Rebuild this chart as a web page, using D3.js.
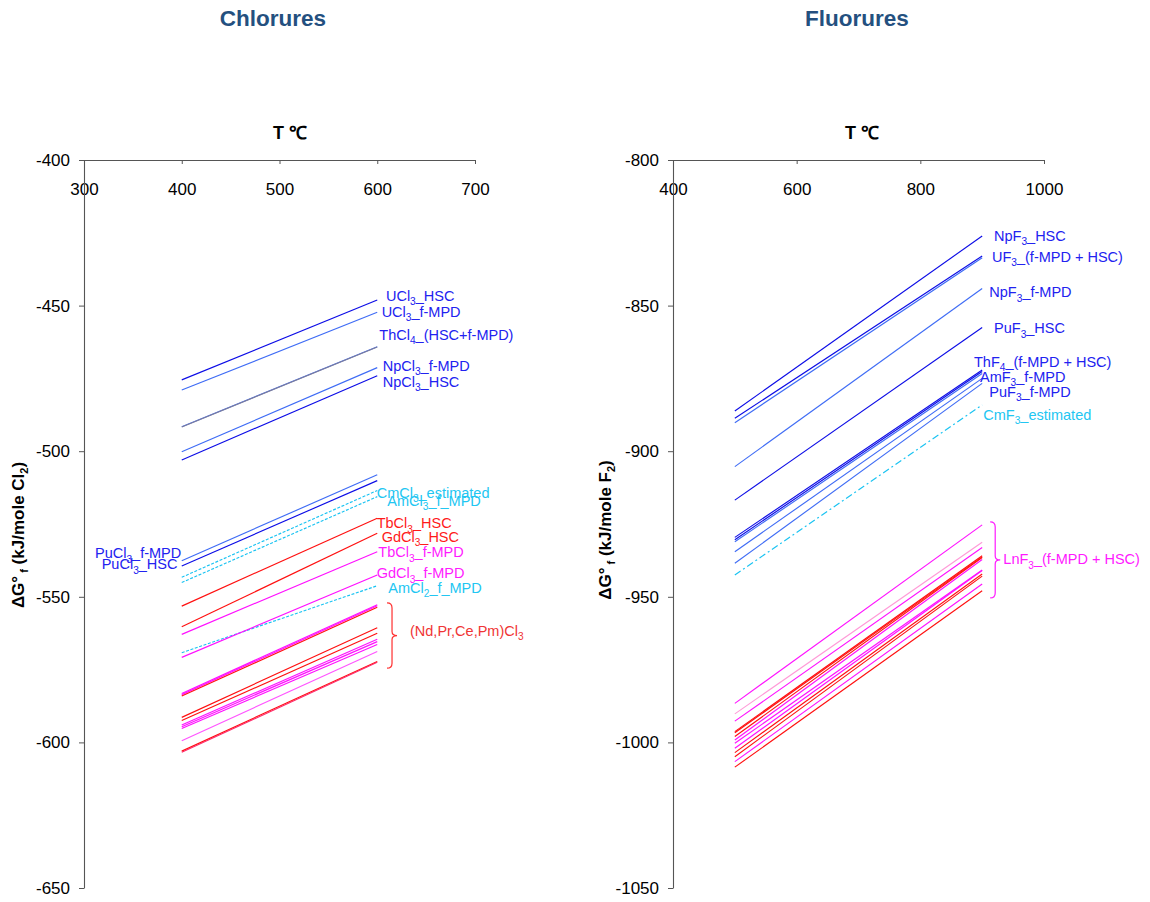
<!DOCTYPE html>
<html><head><meta charset="utf-8">
<script src="https://cdn.jsdelivr.net/npm/d3@7"></script>
<style>
html,body{margin:0;padding:0;background:#fff;}
svg{display:block;}
text{font-family:"Liberation Sans",Arial,sans-serif;}
</style></head>
<body>
<svg id="chart" width="1150" height="902"></svg>
<script>
// ---------------- DATA ----------------
// Chlorures: ΔG°f at 400 °C and 600 °C
const chlorideT = [400, 600];
const chlorideNames = ["UCl3_HSC","UCl3_f-MPD","ThCl4_HSC","ThCl4_f-MPD","NpCl3_f-MPD","NpCl3_HSC",
  "PuCl3_f-MPD","PuCl3_HSC","CmCl3_estimated","AmCl3_f_MPD","TbCl3_HSC","GdCl3_HSC","TbCl3_f-MPD",
  "AmCl2_f_MPD","GdCl3_f-MPD",
  "Ln1","Ln2","Ln3","Ln4","Ln5","Ln6","Ln7","Ln8","Ln9","Ln10","Ln11"];
const chlorideKinds = ["hsc","mpd","mpd","grey","mpd","hsc",
  "mpd","hsc","est","est","red","red","mag",
  "est","mag",
  "mag","mag","red","red","red","mag","mag","mag","lmag","red","rose"];
const chlorideG400 = [-475.5,-479.0,-491.6,-491.7,-500.2,-503.0,
  -537.6,-539.4,-543.3,-545.1,-553.2,-560.3,-562.9,
  -569.2,-570.8,
  -583.2,-583.6,-584.1,-591.4,-592.5,-594.0,-594.6,-595.2,-599.4,-603.0,-603.4];
const chlorideG600 = [-448.1,-452.3,-464.1,-464.2,-471.3,-474.1,
  -508.1,-510.1,-513.5,-515.6,-523.0,-528.2,-534.5,
  -546.2,-542.5,
  -552.7,-553.1,-553.6,-560.6,-562.5,-564.6,-565.4,-566.4,-568.8,-572.2,-572.5];

// Fluorures: ΔG°f at 500 °C and 900 °C
const fluorideT = [500, 900];
const fluorideNames = ["NpF3_HSC","UF3_HSC","UF3_f-MPD","NpF3_f-MPD","PuF3_HSC","ThF4_a","ThF4_b","ThF4_c",
  "AmF3_f-MPD","PuF3_f-MPD","CmF3_estimated",
  "LnF1","LnF2","LnF3","LnF4","LnF5","LnF6","LnF7","LnF8","LnF9","LnF10","LnF11","LnF12","LnF13"];
const fluorideKinds = ["hsc","hsc","mpd","mpd","hsc","hsc","hsc","mpd",
  "mpd","mpd","estdd",
  "mag","pink","mag","red","red","red","mag","mag","mag","red","red","mag","red"];
const fluorideG500 = [-886.2,-888.7,-890.2,-905.3,-916.8,-929.6,-930.4,-931.1,
  -934.5,-938.5,-942.5,
  -986.6,-990.2,-992.7,-996.3,-996.7,-998.0,-999.2,-1000.3,-1002.0,-1003.5,-1004.9,-1006.6,-1008.5];
const fluorideG900 = [-826.1,-833.0,-833.6,-844.1,-857.5,-872.1,-872.6,-873.3,
  -875.0,-876.7,-884.1,
  -925.3,-931.3,-933.1,-935.9,-936.3,-936.5,-937.2,-940.8,-941.0,-942.2,-942.9,-945.6,-947.9];

// axis ticks
const chlorideXTicks = [300,400,500,600,700];
const chlorideYTicks = [-400,-450,-500,-550,-600,-650];
const fluorideXTicks = [400,600,800,1000];
const fluorideYTicks = [-800,-850,-900,-950,-1000,-1050];

// annotation labels (text with {sub}, anchor in data units T, ΔG)
const chlorideLabelText = ["UCl{3}_HSC","UCl{3}_f-MPD","ThCl{4}_(HSC+f-MPD)","NpCl{3}_f-MPD","NpCl{3}_HSC",
  "CmCl{3}_estimated","AmCl{3}_f_MPD","TbCl{3}_HSC","GdCl{3}_HSC","TbCl{3}_f-MPD","GdCl{3}_f-MPD",
  "AmCl{2}_f_MPD","(Nd,Pr,Ce,Pm)Cl{3}","PuCl{3}_f-MPD","PuCl{3}_HSC"];
const chlorideLabelKind = ["blue","blue","blue","blue","blue","cyan","cyan","red","red","mag","mag","cyan","red2","blue","blue"];
const chlorideLabelT = [608.9,604.5,602.1,605.6,605.6,599.4,610.3,599.4,604.5,601.1,599.4,611.3,633.5,311.3,318.1];
const chlorideLabelG = [-448.4,-453.8,-461.8,-472.5,-477.9,-516.0,-518.8,-526.5,-531.1,-536.4,-543.6,-548.6,-563.4,-536.8,-540.6];

const fluorideLabelText = ["NpF{3}_HSC","UF{3}_(f-MPD + HSC)","NpF{3}_f-MPD","PuF{3}_HSC","ThF{4}_(f-MPD + HSC)",
  "AmF{3}_f-MPD","PuF{3}_f-MPD","CmF{3}_estimated","LnF{3}_(f-MPD + HSC)"];
const fluorideLabelKind = ["blue","blue","blue","blue","blue","blue","blue","cyan","mag"];
const fluorideLabelT = [919.2,915.9,911.6,919.2,886.8,896.5,911.6,901.8,934.2];
const fluorideLabelG = [-827.7,-834.9,-847.2,-859.5,-871.0,-876.2,-881.3,-889.3,-938.8];

// braces: [T, Gtop, Gbottom]
const chlorideBrace = [610, -552.1, -574.5];
const fluorideBrace = [913, -924.3, -950.4];

// ---------------- STYLES ----------------
const lineStyle = {
  hsc:{c:"#0c0ce6",d:null}, mpd:{c:"#3f6cf5",d:null}, grey:{c:"#7d7d9a",d:null},
  est:{c:"#19c3f2",d:"3,1.6"}, estdd:{c:"#19c3f2",d:"7,3,2,3"},
  red:{c:"#ff1010",d:null}, mag:{c:"#ff10ff",d:null}, lmag:{c:"#ff55ff",d:null},
  pink:{c:"#ff9ad8",d:null}, rose:{c:"#ff2a6a",d:null}
};
const textColor = {blue:"#2222f0",cyan:"#22c6f2",red:"#ff1a1a",red2:"#f03535",mag:"#ff1aff"};

const svg = d3.select("#chart");

function drawRichText(g, str, x, y, color, size){
  const t = g.append("text").attr("x",x).attr("y",y).attr("fill",color).attr("font-size",size);
  const parts = str.split(/(\{[^}]*\})/).filter(s=>s.length);
  let shifted = false;
  parts.forEach(p=>{
    if(p[0]==="{"){
      t.append("tspan").attr("font-size",size*0.7).attr("dy",size*0.3).text(p.slice(1,-1));
      shifted = true;
    } else {
      const ts = t.append("tspan").text(p);
      if(shifted){ ts.attr("dy",-size*0.3); shifted=false; }
    }
  });
  return t;
}

function panel(opts){
  const g = svg.append("g");
  const x = d3.scaleLinear().domain(opts.xDomain).range(opts.xRange);
  const y = d3.scaleLinear().domain(opts.yDomain).range([160,888]);

  // title
  g.append("text").attr("x",opts.titleX).attr("y",26).attr("text-anchor","middle")
    .attr("font-family","'Open Sans',sans-serif").attr("font-weight","bold").attr("font-size",22.5)
    .attr("fill","#24507f").text(opts.title);
  // axis title T ℃
  g.append("text").attr("x",opts.tX).attr("y",139).attr("text-anchor","middle")
    .attr("font-weight","bold").attr("font-size",18).attr("fill","#000").text("T ℃");

  const fmt = d => String(d);
  // x axis (on top)
  const xa = g.append("g").attr("transform",`translate(0,${y(opts.yDomain[0])})`)
    .call(d3.axisBottom(x).tickValues(opts.xTicks).tickSize(4).tickSizeOuter(0).tickPadding(19).tickFormat(fmt));
  // y axis
  const ya = g.append("g").attr("transform",`translate(${x(opts.xDomain[0])},0)`)
    .call(d3.axisLeft(y).tickValues(opts.yTicks).tickSize(5).tickSizeOuter(0).tickPadding(9).tickFormat(fmt));
  [xa,ya].forEach(a=>{
    a.selectAll("path").attr("stroke","#555").attr("stroke-width",1.1);
    a.selectAll("line").attr("stroke","#555");
    a.selectAll("text").attr("font-family","'Liberation Sans',Arial,sans-serif").attr("font-size",17).attr("fill","#000");
  });

  // y axis title
  const yt = g.append("text").attr("transform",`translate(${opts.yTitleX},${opts.yTitleY}) rotate(-90)`)
    .attr("text-anchor","middle").attr("font-weight","bold").attr("font-size",17).attr("fill","#000");
  yt.append("tspan").text("ΔG°");
  yt.append("tspan").attr("font-size",11).attr("dy",4).text(" f");
  yt.append("tspan").attr("dy",-4).text(" (kJ/mole "+opts.gas);
  yt.append("tspan").attr("font-size",11).attr("dy",4).text("2");
  yt.append("tspan").attr("dy",-4).text(")");

  // lines
  const line = d3.line().x(d=>x(d[0])).y(d=>y(d[1]));
  const series = opts.names.map((n,i)=>({name:n,kind:opts.kinds[i],
    pts:[[opts.T[0],opts.g0[i]],[opts.T[1],opts.g1[i]]]}));
  g.append("g").selectAll("path").data(series).join("path")
    .attr("d",d=>line(d.pts)).attr("fill","none")
    .attr("stroke",d=>lineStyle[d.kind].c)
    .attr("stroke-width",1.15)
    .attr("stroke-dasharray",d=>lineStyle[d.kind].d);

  // labels
  opts.labText.forEach((s,i)=>{
    drawRichText(g, s, x(opts.labT[i]), y(opts.labG[i]), textColor[opts.labKind[i]], 14.5);
  });

  // brace
  const bx = x(opts.brace[0]), by0 = y(opts.brace[1]), by1 = y(opts.brace[2]);
  const bm = (by0+by1)/2, w = 5;
  const p = `M${bx},${by0} Q${bx+w},${by0} ${bx+w},${by0+5} L${bx+w},${bm-4} Q${bx+w},${bm} ${bx+2*w},${bm}`+
            ` Q${bx+w},${bm} ${bx+w},${bm+4} L${bx+w},${by1-5} Q${bx+w},${by1} ${bx},${by1}`;
  g.append("path").attr("d",p).attr("fill","none").attr("stroke",opts.braceColor).attr("stroke-width",1.2);
}

panel({xDomain:[300,700], xRange:[84,475], yDomain:[-400,-650], xTicks:chlorideXTicks, yTicks:chlorideYTicks,
  title:"Chlorures", titleX:273, tX:290, yTitleX:24, yTitleY:535, gas:"Cl",
  names:chlorideNames, kinds:chlorideKinds, T:chlorideT, g0:chlorideG400, g1:chlorideG600,
  labText:chlorideLabelText, labKind:chlorideLabelKind, labT:chlorideLabelT, labG:chlorideLabelG,
  brace:chlorideBrace, braceColor:"#ff3030"});

panel({xDomain:[400,1000], xRange:[673,1044], yDomain:[-800,-1050], xTicks:fluorideXTicks, yTicks:fluorideYTicks,
  title:"Fluorures", titleX:857, tX:862, yTitleX:611, yTitleY:530, gas:"F",
  names:fluorideNames, kinds:fluorideKinds, T:fluorideT, g0:fluorideG500, g1:fluorideG900,
  labText:fluorideLabelText, labKind:fluorideLabelKind, labT:fluorideLabelT, labG:fluorideLabelG,
  brace:fluorideBrace, braceColor:"#ff1aff"});
</script>
</body></html>
